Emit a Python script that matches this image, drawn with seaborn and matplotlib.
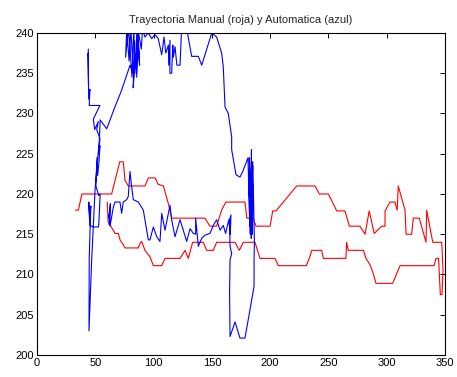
import matplotlib
matplotlib.use("Agg")
import matplotlib.pyplot as plt
import seaborn as sns
import pandas as pd

# Manual trajectory (red): upper branch left->right, lower branch right->left
red_x = [33, 35.5, 38.5, 64, 71, 74, 75.5, 78.3, 92.6, 95.5, 101.3, 104, 108.4, 112.7, 115.5,
         144, 148.4, 154, 158.4, 162, 178.4, 180, 185.6, 187.8, 200, 202.2, 205, 222.8, 238.5,
         242.2, 250, 257.1, 264.2, 268, 277, 281.4, 285, 289.3, 295.7, 298.5, 298.6, 302.8, 307,
         309, 309.9, 315.7, 316.6, 321.4, 322.8, 328, 333.7, 334.3, 339.5, 347.2, 348.3, 347.4,
         346, 344.5, 342.3, 340.6, 311.4, 305.1, 290.8, 288.5, 285.7, 282.2, 280, 267, 265.6,
         265, 264.2, 245.6, 244.2, 235.7, 233.6, 231, 207, 204.2, 191.3, 187, 177, 173.6, 169.9,
         154.1, 151.2, 145.5, 142.7, 133.5, 129.8, 127, 122.7, 109.8, 107, 99.8, 96.9, 92.6,
         89.8, 88.4, 86.9, 75.5, 74, 71.2, 69.8, 66.9, 61, 60.3]
red_y = [218, 218, 220, 220, 224, 224, 221.7, 221, 221, 222, 222, 221.2, 221, 218.8, 217,
         217, 216, 216, 218, 219, 219, 217, 217, 216, 216, 217.9, 217.9, 221, 221,
         220, 220, 217.9, 217.9, 216, 216, 215, 217.9, 215.1, 216, 216, 217.9, 219, 219,
         218, 221, 218, 215, 215, 217, 217, 214, 218, 214, 214, 210.5, 207.5,
         207.5, 212, 212, 211.1, 211.1, 208.9, 208.9, 210.1, 211.2, 212, 213, 213, 214,
         212, 212, 212, 213, 213, 212, 211.1, 211.1, 212, 212, 214, 214, 213, 214,
         214, 213, 213, 214, 214, 212, 213, 212, 212, 211.1, 211.1, 212.2, 213,
         214.1, 213.9, 213.3, 213.3, 213.7, 214.3, 215.1, 215.1, 216.6, 219]

# Automatic trajectory (blue)
blue_x = [44.0, 44.2, 43.9, 44.3, 45.4, 44.8, 54.0, 48.3, 49.5, 52.6, 51.2, 54.0, 52.8, 54.0,
          53.2, 52.0, 51.4, 50.5, 53.0, 54.2, 53.0, 52.6, 48.3, 45.5, 44.4, 45.0, 46.2, 45.6,
          44.8, 44.6,
          46.9, 49.8, 51.2, 53.5, 54.2,
          59.8, 66.0, 72.6, 79.8, 82.6,
          80.5, 79.0, 77.0, 76.0, 78.5, 81.5, 83.0, 84.0, 82.5, 83.8, 85.0, 86.0, 85.5, 87.0,
          88.0, 86.5, 89.5, 90.5, 92.6, 95.5, 98.4, 101.2, 104.0, 107.0, 109.0, 110.5, 112.7,
          113.0, 114.1, 114.0, 115.5, 116.5, 117.0, 118.4, 120.0, 122.7, 124.0, 128.4, 132.7,
          138.4, 141.3, 149.9, 154.1, 158.4, 159.8, 161.3, 164.1, 167.0, 167.0, 170.7, 174.1,
          176.5, 181.0,
          182.5, 181.8, 183.0, 182.2, 183.5, 184.0, 183.2, 184.5, 183.8, 185.0, 184.2, 185.5,
          184.6, 185.2, 186.0, 185.8, 186.5, 186.2, 186.2,
          178.4, 174.1, 169.9, 165.6, 165.2, 165.6, 167.0, 165.6, 165.2, 166.4, 165.8, 164.5,
          163.2, 161.8, 159.8, 157.0, 154.1, 151.2, 148.4, 144.1, 141.3, 138.4, 136.1, 136.1,
          134.1, 131.3, 128.4, 125.5, 122.7, 118.4, 115.5, 114.1, 109.8, 107.0, 105.5, 102.7,
          99.8, 96.9, 95.5, 94.1, 91.2, 86.9, 82.6, 81.2, 79.8, 78.3, 76.9, 74.0, 72.6, 71.2,
          66.9, 65.5, 64.1, 62.6, 62.6, 61.5, 63.0, 61.8]
blue_y = [238.0, 233.5, 237.5, 231.8, 233.0, 231.0, 231.0, 229.3, 228.0, 229.0, 228.0, 226.9,
          225.0, 226.0, 224.0, 222.3, 224.5, 221.0, 219.8, 220.0, 216.2, 215.9, 215.9, 216.1,
          219.0, 217.0, 218.5, 216.0, 212.0, 203.0,
          211.8, 220.5, 223.0, 226.7, 229.2,
          228.1, 230.5, 232.9, 236.0, 235.0,
          240.5, 236.5, 240.5, 237.0, 240.5, 234.5, 240.5, 236.0, 233.2, 239.0, 235.0, 240.5,
          234.5, 238.5, 236.0, 240.5, 238.0, 240.5, 239.5, 240.0, 239.3, 239.8, 239.3, 237.3,
          239.5, 237.5, 238.5, 236.0, 239.1, 235.0, 235.0, 238.5, 237.0, 238.3, 236.0, 236.0,
          240.5, 240.5, 237.1, 237.1, 236.0, 240.0, 239.5, 237.5, 235.8, 230.8, 230.0, 227.1,
          225.5, 222.4, 222.1, 222.8, 224.5,
          216.0, 223.0, 215.0, 224.5, 217.0, 225.5, 215.5, 222.0, 214.5, 224.0, 216.5, 221.0,
          215.0, 223.5, 217.5, 219.0, 214.0, 211.8, 208.5,
          202.1, 202.1, 204.1, 202.3, 207.7, 211.8, 212.6, 213.5, 216.8, 217.4, 215.0, 216.8,
          216.0, 215.1, 216.1, 215.5, 216.8, 216.1, 215.1, 214.9, 214.5, 213.5, 217.0, 215.0,
          215.1, 215.7, 214.1, 215.5, 216.8, 214.7, 216.8, 218.6, 215.5, 217.6, 214.1, 214.7,
          215.9, 214.3, 214.3, 215.5, 218.0, 219.0, 219.3, 220.9, 222.8, 219.7, 219.3, 219.0,
          217.6, 219.0, 219.0, 218.4, 217.2, 216.0, 218.0, 217.0, 218.8, 216.2]

title = "Trayectoria Manual (roja) y Automatica (azul)"
x_ticks = [0, 50, 100, 150, 200, 250, 300, 350]
y_ticks = [200, 205, 210, 215, 220, 225, 230, 235, 240]

sns.set_style("white")
plt.rcParams['font.family'] = ['Liberation Sans', 'DejaVu Sans']

df_red = pd.DataFrame({"x": red_x, "y": red_y})
df_blue = pd.DataFrame({"x": blue_x, "y": blue_y})

fig = plt.figure(figsize=(4.57, 3.77), dpi=100)
ax = fig.add_axes([37 / 457, 22 / 377, 408 / 457, 322 / 377])

sns.lineplot(data=df_red, x="x", y="y", sort=False, estimator=None,
             color=(1, 0, 0), linewidth=0.8, ax=ax)
sns.lineplot(data=df_blue, x="x", y="y", sort=False, estimator=None,
             color=(0, 0, 1), linewidth=0.8, ax=ax)

ax.set_xlim(0, 350)
ax.set_ylim(200, 240)
ax.set_xticks(x_ticks)
ax.set_yticks(y_ticks)
ax.set_xlabel("")
ax.set_ylabel("")
ax.tick_params(direction="in", top=True, right=True, length=3.5, width=0.7,
               labelsize=8, colors="black", pad=2)
for s in ax.spines.values():
    s.set_visible(True)
    s.set_color("black")
    s.set_linewidth(0.8)
ax.set_title(title, fontsize=8, pad=7)

fig.savefig("out.png", dpi=100)
